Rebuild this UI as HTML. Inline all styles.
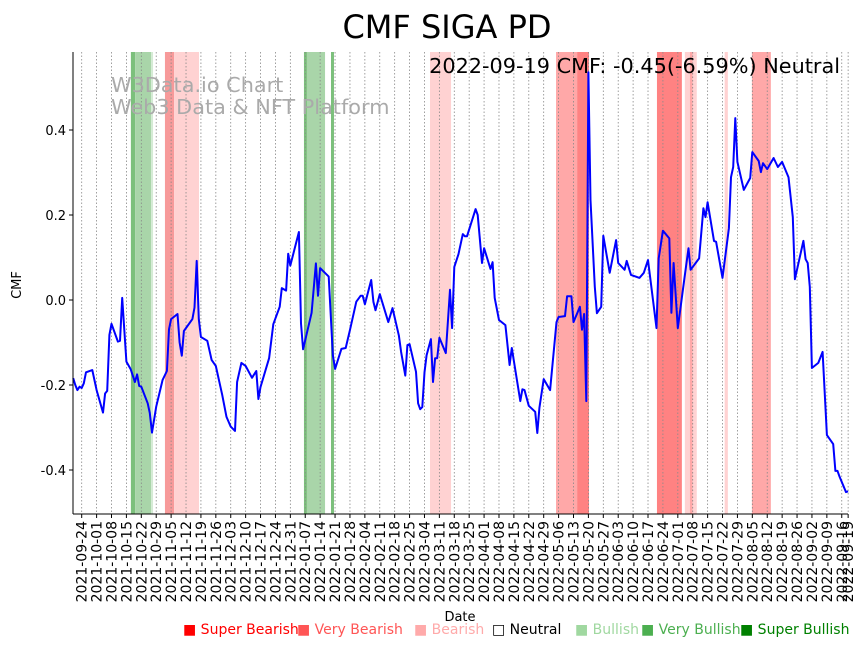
<!DOCTYPE html>
<html><head><meta charset="utf-8"><style>
body{margin:0;background:#fff;width:867px;height:646px;overflow:hidden;font-family:"Liberation Sans","DejaVu Sans",sans-serif}
svg{position:absolute;left:0;top:0}
</style></head><body>
<svg id="chart" width="867" height="646" xmlns="http://www.w3.org/2000/svg" font-family="'DejaVu Sans','Liberation Sans',sans-serif">
<text x="447" y="38" font-size="32" text-anchor="middle">CMF SIGA PD</text>
<g id="bands"></g>
<g id="grid"></g>
<text x="111" y="92" font-size="20.8" fill="#aaa">W3Data.io Chart</text>
<text x="111" y="114" font-size="20.8" fill="#aaa">Web3 Data &amp; NFT Platform</text>
<text x="840" y="73" font-size="20.8" text-anchor="end">2022-09-19 CMF: -0.45(-6.59%) Neutral</text>
<polyline id="line" fill="none" stroke="#0000ff" stroke-width="2" stroke-linejoin="round"/>
<line x1="73" y1="52" x2="73" y2="514" stroke="#000" stroke-width="1"/>
<line x1="73" y1="514" x2="848" y2="514" stroke="#000" stroke-width="1"/>
<g id="yticks"></g>
<g id="xticks"></g>
<text x="0" y="0" font-size="13" text-anchor="middle" transform="translate(21,285) rotate(-90)">CMF</text>
<text x="460" y="621" font-size="13" text-anchor="middle">Date</text>
<g font-size="14">
<text x="183" y="634" fill="#ff0000">■ Super Bearish</text>
<text x="297" y="634" fill="#ff5555">■ Very Bearish</text>
<text x="414" y="634" fill="#ffaaaa">■ Bearish</text>
<text x="492" y="634" fill="#000">□ Neutral</text>
<text x="575" y="634" fill="#a0d8a0">■ Bullish</text>
<text x="641" y="634" fill="#4caf50">■ Very Bullish</text>
<text x="740" y="634" fill="#008000">■ Super Bullish</text>
</g>
</svg>
<script>
// day offsets from 2021-09-24
const days=[-4,-3,-2,-1,0,1,2,5,7,10,11,12,13,14,17,18,19,21,23,25,26,27,28,31,32,33,35,38,40,41,42,45,46,47,48,52,53,54,55,56,59,61,63,66,68,70,72,73,75,77,80,82,83,84,88,90,93,94,96,97,98,102,103,104,108,110,111,112,116,118,119,122,124,126,129,131,132,133,136,137,138,140,144,146,149,150,152,153,154,157,158,159,160,161,162,164,165,166,167,168,171,173,174,175,177,179,180,181,185,186,188,189,192,193,194,196,199,201,202,206,207,208,210,213,214,215,217,220,223,224,227,228,230,231,234,235,236,237,238,239,241,242,244,245,248,251,252,255,256,258,262,264,266,270,271,273,276,277,278,280,283,285,286,290,292,293,294,297,298,301,304,305,306,307,308,311,314,315,318,319,320,322,325,327,329,332,334,335,339,340,341,342,343,346,348,350,353,354,355,356,359,360];
const cmf=[-0.184,-0.2,-0.212,-0.204,-0.207,-0.196,-0.17,-0.165,-0.212,-0.265,-0.22,-0.214,-0.082,-0.056,-0.098,-0.096,0.005,-0.145,-0.163,-0.193,-0.175,-0.202,-0.204,-0.243,-0.266,-0.312,-0.251,-0.188,-0.167,-0.069,-0.045,-0.033,-0.1,-0.131,-0.073,-0.045,-0.018,0.092,-0.045,-0.087,-0.096,-0.141,-0.155,-0.223,-0.275,-0.298,-0.308,-0.193,-0.148,-0.155,-0.183,-0.167,-0.233,-0.205,-0.137,-0.057,-0.016,0.028,0.022,0.109,0.081,0.16,-0.055,-0.116,-0.03,0.086,0.01,0.075,0.055,-0.131,-0.162,-0.115,-0.113,-0.07,-0.004,0.01,0.01,-0.01,0.047,-0.004,-0.024,0.014,-0.052,-0.019,-0.084,-0.122,-0.178,-0.106,-0.104,-0.169,-0.243,-0.257,-0.252,-0.17,-0.13,-0.092,-0.193,-0.137,-0.137,-0.089,-0.125,0.024,-0.066,0.078,0.108,0.155,0.15,0.15,0.214,0.2,0.087,0.122,0.073,0.089,0.005,-0.047,-0.059,-0.153,-0.113,-0.238,-0.21,-0.212,-0.249,-0.263,-0.313,-0.254,-0.186,-0.212,-0.052,-0.04,-0.038,0.009,0.009,-0.052,-0.016,-0.07,-0.033,-0.238,0.536,0.235,0.031,-0.031,-0.016,0.151,0.064,0.141,0.087,0.071,0.092,0.059,0.052,0.064,0.094,-0.066,0.098,0.163,0.145,-0.03,0.087,-0.066,0.047,0.122,0.071,0.098,0.216,0.195,0.23,0.139,0.137,0.052,0.169,0.289,0.313,0.428,0.325,0.259,0.287,0.348,0.327,0.301,0.322,0.308,0.334,0.313,0.325,0.289,0.195,0.049,0.139,0.096,0.087,0.031,-0.16,-0.148,-0.122,-0.318,-0.339,-0.402,-0.402,-0.416,-0.452,-0.45];
const bandStart=[23.1,25.1,32.6,39.1,43.4,104.4,105.8,117.1,163.6,222.8,232.7,270.2,283.3,285.7,287,302,314.8];
const bandEnd=[25.1,32.6,33.5,43.4,55.1,105.8,114.3,118.5,173.5,232.7,238.3,281.9,285.7,287,288.9,303.5,323.7];
const bandType=["vbull","bull","lbull","vbear","lbear","vbull","bull","vbull","lbear","bear","dbear","dbear","lbear","bear","lbear","lbear","bear"];
const yTicks=[0.4,0.2,0.0,-0.2,-0.4];
const tickDays=[];for(let d=0;d<=357;d+=7)tickDays.push(d);tickDays.push(360);
const NS="http://www.w3.org/2000/svg";
const xs=d=>81.7+d*2.129, ys=v=>300-v*425;
const colors={vbull:"#7cc07c",bull:"#a9d5a9",lbull:"#d4ead4",vbear:"#f79a9a",lbear:"#ffd2d2",bear:"#ffa8a8",dbear:"#ff8282"};
const bg=document.getElementById('bands');
bandStart.forEach((s,i)=>{const r=document.createElementNS(NS,'rect');


r.setAttribute('x',xs(s));r.setAttribute('width',xs(bandEnd[i])-xs(s));r.setAttribute('y',52);r.setAttribute('height',462);r.setAttribute('fill',colors[bandType[i]]);bg.appendChild(r);});
const gg=document.getElementById('grid'),xt=document.getElementById('xticks');
const base=Date.UTC(2021,8,24);
tickDays.forEach(d=>{const x=xs(d);
const l=document.createElementNS(NS,'line');


l.setAttribute('x1',x);l.setAttribute('x2',x);l.setAttribute('y1',52);l.setAttribute('y2',514);l.setAttribute('stroke','#888');l.setAttribute('stroke-width','0.8');l.setAttribute('stroke-dasharray','1.5,2');gg.appendChild(l);
const t=document.createElementNS(NS,'line');


t.setAttribute('x1',x);t.setAttribute('x2',x);t.setAttribute('y1',514);t.setAttribute('y2',518);t.setAttribute('stroke','#000');xt.appendChild(t);
const lab=new Date(base+d*86400000).toISOString().slice(0,10);
const tx=document.createElementNS(NS,'text');


tx.setAttribute('font-size','14');tx.setAttribute('text-anchor','end');tx.setAttribute('transform',`translate(${x+5},521) rotate(-90)`);tx.textContent=lab;xt.appendChild(tx);});
const yt=document.getElementById('yticks');
yTicks.forEach(v=>{const y=ys(v);
const t=document.createElementNS(NS,'line');


t.setAttribute('x1',69);t.setAttribute('x2',73);t.setAttribute('y1',y);t.setAttribute('y2',y);t.setAttribute('stroke','#000');yt.appendChild(t);
const tx=document.createElementNS(NS,'text');


tx.setAttribute('x',66);tx.setAttribute('y',y+5);tx.setAttribute('font-size','13');tx.setAttribute('text-anchor','end');tx.textContent=v.toFixed(1);yt.appendChild(tx);});
document.getElementById('line').setAttribute('points',days.map((d,i)=>xs(d).toFixed(1)+','+ys(cmf[i]).toFixed(1)).join(' '));
</script>
</body></html>
